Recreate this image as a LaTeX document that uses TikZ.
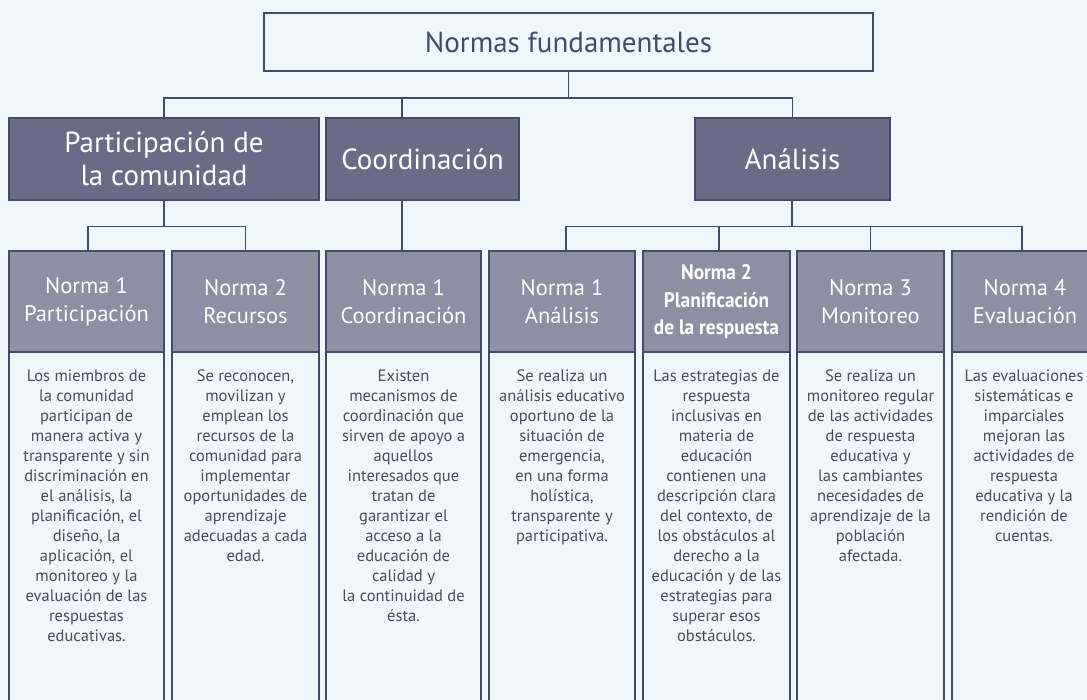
\documentclass[tikz,border=0pt]{standalone}
\usepackage{fontspec}
\setmainfont{PT Sans}
\newfontfamily\condb[FakeStretch=0.92]{PT Sans Bold}
\definecolor{bg}{HTML}{EFF7FB}
\definecolor{navy}{HTML}{444A6A}
\definecolor{lvltwo}{HTML}{6A6B86}
\definecolor{hdr}{HTML}{8D8FA3}
\definecolor{bodytxt}{HTML}{4B4C5E}
\tikzset{
  conn/.style={draw=navy, line width=1.6pt},
  topbox/.style={draw=navy, line width=1.6pt, fill=bg, text=navy, font=\fontsize{29}{33}\selectfont, inner sep=0pt},
  lvlbox/.style={draw=navy, line width=1.6pt, fill=lvltwo, text=white, font=\fontsize{29}{33}\selectfont, align=center, inner sep=0pt},
  hdrbox/.style={draw=navy, line width=1.6pt, fill=hdr, text=white, font=\fontsize{22.5}{28}\selectfont, align=center, inner sep=0pt},
  bodybox/.style={draw=navy, line width=1.6pt, fill=bg, inner sep=0pt},
  bodytext/.style={text=bodytxt, font=\fontsize{16.5}{20}\selectfont, align=center, anchor=north, inner sep=0pt}
}
\begin{document}
\begin{tikzpicture}[x=1pt,y=-1pt]
\fill[bg] (0,0) rectangle (1087,700);
\useasboundingbox (0,0) rectangle (1087,700);
% top
\node[topbox, minimum width=609pt, minimum height=58pt] (top) at (568.5,42) {Normas fundamentales};
% level 2
\node[lvlbox, minimum width=310pt, minimum height=82pt] (part) at (164,159) {Participación de\\la comunidad};
\node[lvlbox, minimum width=193pt, minimum height=82pt] (coord) at (422.5,159) {Coordinación};
\node[lvlbox, minimum width=195pt, minimum height=82pt] (anal) at (792.5,159) {Análisis};
% columns: bodies
\node[bodybox, minimum width=155pt, minimum height=370pt, anchor=north] (b1) at (86.5,351) {};
\node[bodybox, minimum width=147pt, minimum height=370pt, anchor=north] (b2) at (245.5,351) {};
\node[bodybox, minimum width=155pt, minimum height=370pt, anchor=north] (b3) at (403.5,351) {};
\node[bodybox, minimum width=146pt, minimum height=370pt, anchor=north] (b4) at (562,351) {};
\node[bodybox, minimum width=147pt, minimum height=370pt, anchor=north] (b5) at (716.5,351) {};
\node[bodybox, minimum width=147pt, minimum height=370pt, anchor=north] (b6) at (870.5,351) {};
\node[bodybox, minimum width=146pt, minimum height=370pt, anchor=north] (b7) at (1025,351) {};
% headers
\node[hdrbox, minimum width=155pt, minimum height=101pt, anchor=north] (h1) at (86.5,250.5) {Norma 1\\Participación};
\node[hdrbox, minimum width=147pt, minimum height=101pt, anchor=north] (h2) at (245.5,250.5) {Norma 2\\Recursos};
\node[hdrbox, minimum width=155pt, minimum height=101pt, anchor=north] (h3) at (403.5,250.5) {Norma 1\\Coordinación};
\node[hdrbox, minimum width=146pt, minimum height=101pt, anchor=north] (h4) at (562,250.5) {Norma 1\\Análisis};
\node[hdrbox, minimum width=147pt, minimum height=101pt, anchor=north, font=\condb\fontsize{21}{27.5}\selectfont] (h5) at (716.5,250.5) {Norma 2\\Planificación\\de la respuesta};
\node[hdrbox, minimum width=147pt, minimum height=101pt, anchor=north] (h6) at (870.5,250.5) {Norma 3\\Monitoreo};
\node[hdrbox, minimum width=146pt, minimum height=101pt, anchor=north] (h7) at (1025,250.5) {Norma 4\\Evaluación};
% body texts
\node[bodytext] (t1) at (86.5,369.5) {Los miembros de\\la comunidad\\participan de\\manera activa y\\transparente y sin\\discriminación en\\el análisis, la\\planificación, el\\diseño, la\\aplicación, el\\monitoreo y la\\evaluación de las\\respuestas\\educativas.};
\node[bodytext] (t2) at (245.5,369.5) {Se reconocen,\\movilizan y\\emplean los\\recursos de la\\comunidad para\\implementar\\oportunidades de\\aprendizaje\\adecuadas a cada\\edad.};
\node[bodytext] (t3) at (403.5,369.5) {Existen\\mecanismos de\\coordinación que\\sirven de apoyo a\\aquellos\\interesados que\\tratan de\\garantizar el\\acceso a la\\educación de\\calidad y\\la continuidad de\\ésta.};
\node[bodytext] (t4) at (562,369.5) {Se realiza un\\análisis educativo\\oportuno de la\\situación de\\emergencia,\\en una forma\\holística,\\transparente y\\participativa.};
\node[bodytext] (t5) at (716.5,369.5) {Las estrategias de\\respuesta\\inclusivas en\\materia de\\educación\\contienen una\\descripción clara\\del contexto, de\\los obstáculos al\\derecho a la\\educación y de las\\estrategias para\\superar esos\\obstáculos.};
\node[bodytext] (t6) at (870.5,369.5) {Se realiza un\\monitoreo regular\\de las actividades\\de respuesta\\educativa y\\las cambiantes\\necesidades de\\aprendizaje de la\\población\\afectada.};
\node[bodytext] (t7) at (1024,369.5) {Las evaluaciones\\sistemáticas e\\imparciales\\mejoran las\\actividades de\\respuesta\\educativa y la\\rendición de\\cuentas.};
% connectors
\coordinate (j0) at (568.5,98);
\draw[conn] (top.south) -- (j0);
\draw[conn] (part.north) |- (j0) -| (anal.north);
\draw[conn] (402,98) -- (402,118);
\coordinate (j1) at (164,226.5);
\draw[conn] (part.south) -- (j1);
\draw[conn] (h1.north -| 88,0) |- (j1) -| (h2.north);
\draw[conn] (402,200) -- (h3.north -| 402,0);
\coordinate (j2) at (792,226.5);
\draw[conn] (anal.south -| 792,0) -- (j2);
\draw[conn] (h4.north -| 566,0) |- (j2) -| (h7.north -| 1022,0);
\draw[conn] (h5.north -| 719,0) -- (719,226.5);
\draw[conn] (h6.north) -- (870.5,226.5);
\end{tikzpicture}
\end{document}
